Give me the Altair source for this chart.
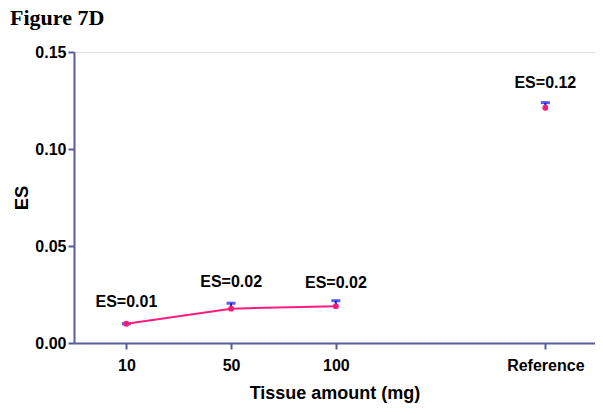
import altair as alt
import pandas as pd

groups = ["10", "50", "100", "Reference"]
xpos = [1, 2, 3, 5]
es_values = [0.0099, 0.0177, 0.0190, 0.1213]
err_upper = [0.0099, 0.0205, 0.0218, 0.1239]
labels = ["ES=0.01", "ES=0.02", "ES=0.02", "ES=0.12"]
label_y = [0.0210, 0.0315, 0.0310, 0.1340]
line_flag = [True, True, True, False]

df = pd.DataFrame({"group": groups, "x": xpos, "es": es_values, "up": err_upper,
                   "label": labels, "ly": label_y, "inline": line_flag})

axis_col = "#5a5a9e"
font = "Liberation Sans"

x_enc = alt.X("x:Q", scale=alt.Scale(domain=[0.5, 5.474], nice=False, zero=False),
              axis=alt.Axis(values=xpos, title="Tissue amount (mg)",
                            labelExpr="datum.value==1?'10':datum.value==2?'50':datum.value==3?'100':'Reference'",
                            grid=False, domainColor=axis_col, tickColor=axis_col, domainWidth=2, tickWidth=2,
                            tickSize=6, labelFontSize=16, labelFontWeight="bold", labelFont=font,
                            labelColor="black", labelPadding=8, titleFontSize=18, titleFontWeight="bold",
                            titleFont=font, titlePadding=11, titleColor="black"))
y_enc = alt.Y("es:Q", scale=alt.Scale(domain=[0, 0.15], nice=False),
              axis=alt.Axis(values=[0, 0.05, 0.10, 0.15], format=".2f", title="ES", grid=False,
                            domainColor=axis_col, tickColor=axis_col, domainWidth=2, tickWidth=2,
                            tickSize=6, labelFontSize=16, labelFontWeight="bold", labelFont=font,
                            labelColor="black", labelPadding=2, titleFontSize=18.5, titleFontWeight="bold",
                            titleFont=font, titlePadding=3, titleColor="black"))

base = alt.Chart(df)

err = base.mark_rule(color="#1414f0", strokeWidth=2).encode(x=x_enc, y=y_enc, y2="up:Q")
cap = base.mark_tick(color="#1414f0", thickness=3, size=9, orient="horizontal").encode(
    x=x_enc, y=alt.Y("up:Q"))
line = base.transform_filter("datum.inline").mark_line(color="#ff1c7c", strokeWidth=2).encode(x=x_enc, y=y_enc)
pts = base.mark_point(filled=True, color="#f01e7a", size=35, opacity=1).encode(x=x_enc, y=y_enc)
txt = base.mark_text(fontSize=16, fontWeight="bold", font=font, color="black").encode(
    x=x_enc, y=alt.Y("ly:Q"), text="label:N")

chart = alt.layer(err, cap, line, pts, txt).properties(
    width=521, height=291,
    title=alt.TitleParams("Figure 7D", anchor="start", frame="group", align="left",
                          font="Liberation Serif", fontSize=22,
                          fontWeight="bold", color="black", dx=-64, offset=14),
    autosize=alt.AutoSizeParams(type="none"),
    padding={"left": 66, "top": 44, "right": 0, "bottom": 63},
).configure_view(stroke=None).configure(background="white")

chart.save("out.html", embed_options={"renderer": "svg", "actions": False})
